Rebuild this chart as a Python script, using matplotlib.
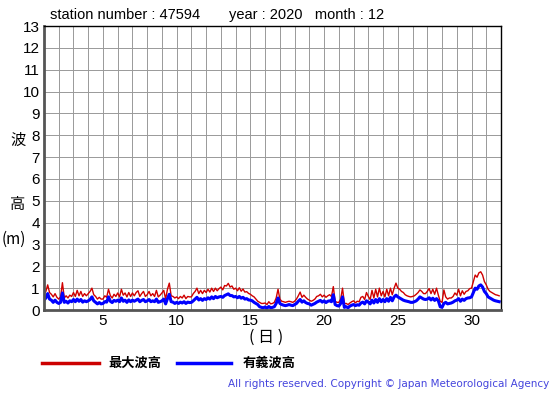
import numpy as np
import matplotlib.pyplot as plt
from matplotlib.lines import Line2D

plt.rcParams['font.family'] = ['Liberation Sans', 'Noto Sans CJK JP', 'DejaVu Sans']

station = "47594"
year = 2020
month = 12

# 3-hourly readings, one row per day (8 values), 1-31 Dec
sig_wave = [
    [0.45, 0.55, 0.75, 0.5, 0.45, 0.35, 0.45, 0.35],
    [0.3, 0.35, 0.78, 0.35, 0.4, 0.32, 0.42, 0.38],
    [0.48, 0.38, 0.5, 0.4, 0.48, 0.36, 0.42, 0.38],
    [0.42, 0.48, 0.6, 0.42, 0.35, 0.28, 0.34, 0.28],
    [0.3, 0.38, 0.36, 0.6, 0.4, 0.34, 0.44, 0.4],
    [0.45, 0.38, 0.55, 0.4, 0.45, 0.35, 0.46, 0.38],
    [0.45, 0.4, 0.45, 0.5, 0.38, 0.44, 0.48, 0.38],
    [0.42, 0.48, 0.38, 0.42, 0.38, 0.5, 0.35, 0.38],
    [0.42, 0.5, 0.28, 0.52, 0.72, 0.38, 0.36, 0.3],
    [0.35, 0.3, 0.36, 0.32, 0.38, 0.3, 0.36, 0.34],
    [0.35, 0.42, 0.5, 0.58, 0.46, 0.52, 0.44, 0.52],
    [0.48, 0.56, 0.5, 0.6, 0.52, 0.62, 0.56, 0.6],
    [0.62, 0.58, 0.66, 0.7, 0.74, 0.66, 0.66, 0.6],
    [0.62, 0.56, 0.62, 0.54, 0.58, 0.5, 0.52, 0.46],
    [0.45, 0.42, 0.35, 0.3, 0.25, 0.15, 0.12, 0.1],
    [0.14, 0.08, 0.16, 0.1, 0.12, 0.15, 0.3, 0.55],
    [0.3, 0.25, 0.22, 0.2, 0.22, 0.25, 0.22, 0.2],
    [0.25, 0.3, 0.4, 0.48, 0.36, 0.42, 0.34, 0.3],
    [0.28, 0.22, 0.26, 0.3, 0.36, 0.4, 0.44, 0.36],
    [0.42, 0.34, 0.4, 0.42, 0.38, 0.7, 0.25, 0.2],
    [0.18, 0.3, 0.6, 0.12, 0.15, 0.1, 0.18, 0.22],
    [0.25, 0.2, 0.24, 0.22, 0.32, 0.36, 0.28, 0.42],
    [0.36, 0.28, 0.45, 0.32, 0.48, 0.35, 0.52, 0.38],
    [0.48, 0.38, 0.52, 0.4, 0.58, 0.42, 0.6, 0.68],
    [0.6, 0.55, 0.5, 0.45, 0.42, 0.4, 0.38, 0.35],
    [0.35, 0.38, 0.42, 0.5, 0.6, 0.55, 0.5, 0.48],
    [0.5, 0.56, 0.46, 0.54, 0.44, 0.52, 0.42, 0.15],
    [0.12, 0.3, 0.35, 0.28, 0.3, 0.32, 0.36, 0.42],
    [0.45, 0.52, 0.4, 0.5, 0.44, 0.52, 0.55, 0.56],
    [0.6, 0.8, 1.0, 0.95, 1.1, 1.15, 1.05, 0.85],
    [0.75, 0.6, 0.55, 0.5, 0.45, 0.42, 0.4, 0.38],
]

max_wave = [
    [0.75, 0.85, 1.15, 0.8, 0.72, 0.6, 0.75, 0.58],
    [0.5, 0.6, 1.25, 0.55, 0.65, 0.55, 0.68, 0.62],
    [0.8, 0.62, 0.9, 0.65, 0.85, 0.62, 0.75, 0.65],
    [0.75, 0.85, 1.0, 0.7, 0.62, 0.5, 0.58, 0.5],
    [0.5, 0.65, 0.58, 0.95, 0.66, 0.55, 0.72, 0.62],
    [0.78, 0.6, 0.95, 0.68, 0.78, 0.6, 0.8, 0.62],
    [0.78, 0.65, 0.8, 0.88, 0.62, 0.75, 0.85, 0.62],
    [0.7, 0.85, 0.65, 0.75, 0.62, 0.9, 0.6, 0.68],
    [0.78, 0.9, 0.5, 0.95, 1.23, 0.65, 0.62, 0.55],
    [0.6, 0.52, 0.62, 0.55, 0.68, 0.52, 0.62, 0.6],
    [0.6, 0.75, 0.85, 1.0, 0.75, 0.9, 0.75, 0.9],
    [0.8, 0.95, 0.82, 1.0, 0.85, 1.0, 0.88, 0.98],
    [1.05, 0.92, 1.12, 1.1, 1.22, 1.05, 1.1, 0.95],
    [1.0, 0.88, 1.02, 0.86, 0.96, 0.82, 0.84, 0.76],
    [0.72, 0.65, 0.6, 0.5, 0.4, 0.35, 0.3, 0.3],
    [0.32, 0.25, 0.38, 0.28, 0.3, 0.35, 0.55, 0.95],
    [0.5, 0.4, 0.38, 0.35, 0.38, 0.4, 0.38, 0.35],
    [0.4, 0.5, 0.65, 0.82, 0.58, 0.68, 0.58, 0.5],
    [0.45, 0.4, 0.44, 0.5, 0.62, 0.65, 0.72, 0.6],
    [0.68, 0.58, 0.65, 0.7, 0.62, 1.07, 0.4, 0.35],
    [0.35, 0.5, 1.0, 0.3, 0.3, 0.25, 0.32, 0.38],
    [0.42, 0.33, 0.4, 0.38, 0.58, 0.62, 0.48, 0.8],
    [0.62, 0.48, 0.9, 0.55, 0.95, 0.6, 1.0, 0.65],
    [0.85, 0.6, 0.95, 0.65, 1.0, 0.7, 1.0, 1.23],
    [1.0, 0.95, 0.85, 0.8, 0.7, 0.65, 0.62, 0.6],
    [0.62, 0.65, 0.72, 0.8, 0.92, 0.85, 0.75, 0.75],
    [0.85, 0.98, 0.75, 0.95, 0.72, 1.0, 0.68, 0.4],
    [0.35, 0.92, 0.6, 0.5, 0.55, 0.55, 0.62, 0.78],
    [0.68, 0.95, 0.65, 0.88, 0.72, 0.85, 0.88, 0.98],
    [1.0, 1.3, 1.6, 1.5, 1.7, 1.75, 1.6, 1.3],
    [1.15, 0.95, 0.85, 0.8, 0.75, 0.7, 0.68, 0.65],
]

sig = np.array(sig_wave).ravel()
mx = np.array(max_wave).ravel()
t = 1 + np.arange(len(sig)) / 8.0

fig = plt.figure(figsize=(5.55, 3.95), dpi=100)
ax = fig.add_axes([44 / 555, 1 - 310 / 395, 457 / 555, 284 / 395])

ax.plot(t, mx, color='#d00000', lw=1.0)
ax.plot(t, sig, color='#0000ff', lw=2.2)

ax.set_xlim(1, 32)
ax.set_ylim(0, 13)
ax.set_xticks(range(5, 31, 5))
ax.set_xticks(range(1, 33), minor=True)
ax.set_yticks(range(0, 14))
ax.grid(True, which='both', color='#999999', lw=0.7)
ax.tick_params(which='both', length=0, labelsize=11, pad=3)
for s in ax.spines.values():
    s.set_color('black')
    s.set_linewidth(1.0)
ax.spines['left'].set_color('#555555')
ax.spines['left'].set_linewidth(2)
ax.spines['bottom'].set_color('#555555')
ax.spines['bottom'].set_linewidth(2)

fig.text(50 / 555, 1 - 15 / 395,
         f"station number : {station}       year : {year}   month : {month}",
         fontsize=10.5, va='center', ha='left')

# y label drawn vertically char by char
cjk = ['Noto Sans CJK JP', 'DejaVu Sans']
fig.text(18 / 555, 1 - 140 / 395, "波", fontsize=11, ha='center', va='center', family=cjk)
fig.text(18 / 555, 1 - 205 / 395, "高", fontsize=11, ha='center', va='center', family=cjk)
fig.text(2 / 555, 1 - 239 / 395, "(m)", fontsize=11, ha='left', va='center', family=cjk)
fig.text(266 / 555, 1 - 337 / 395, "( 日 )", fontsize=11.5, ha='center', va='center', family=cjk)

# legend
fig.add_artist(Line2D([42 / 555, 99 / 555], [1 - 363 / 395] * 2, color='#cc0000', lw=2.5))
fig.text(108 / 555, 1 - 363 / 395, "最大波高", fontsize=9.5, fontweight='bold', va='center', family=cjk)
fig.add_artist(Line2D([177 / 555, 231 / 555], [1 - 363 / 395] * 2, color='#0000ff', lw=2.5))
fig.text(243 / 555, 1 - 363 / 395, "有義波高", fontsize=9.5, fontweight='bold', va='center', family=cjk)

fig.text(549 / 555, 1 - 384 / 395,
         "All rights reserved. Copyright \u00a9 Japan Meteorological Agency",
         fontsize=7.5, color='#4444dd', ha='right', va='center', family='DejaVu Sans')

fig.savefig('out.png', dpi=100)
